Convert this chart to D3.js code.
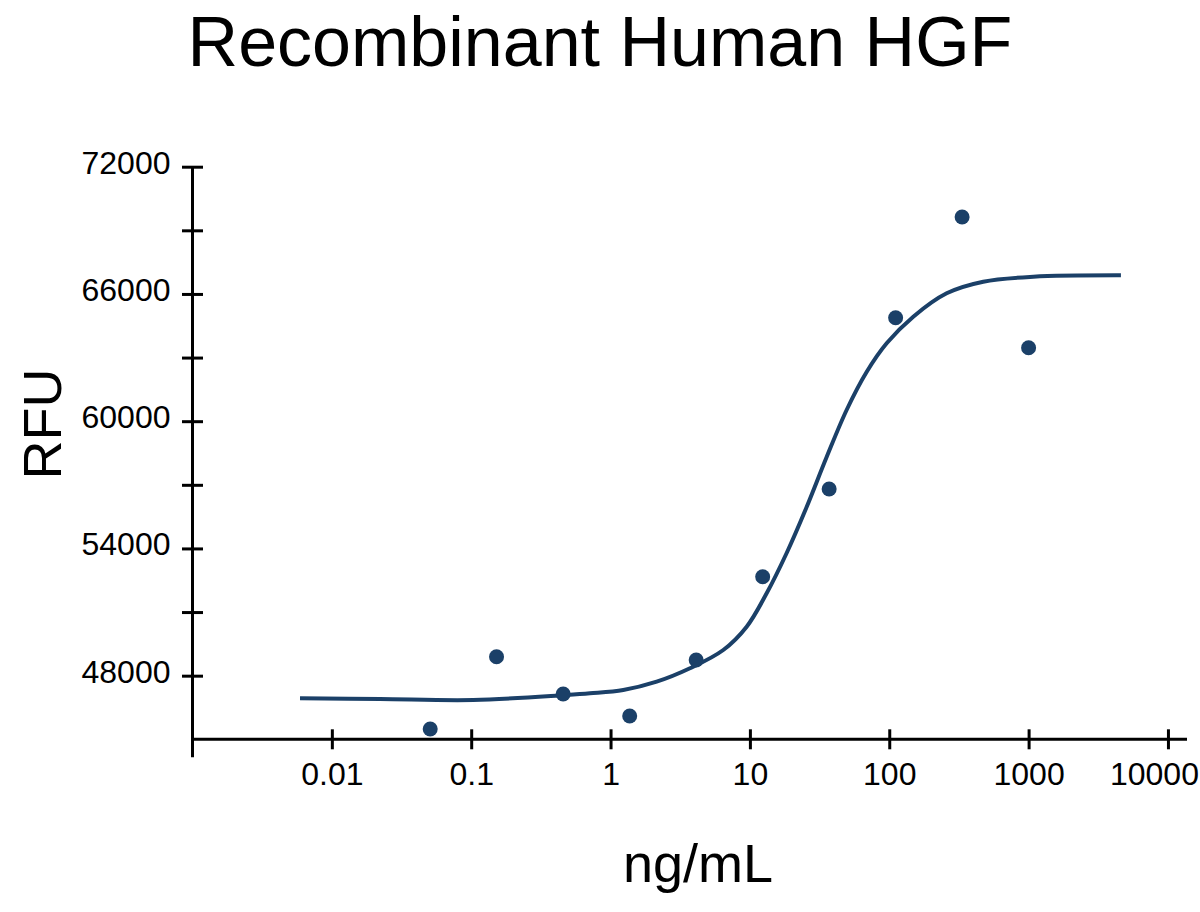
<!DOCTYPE html>
<html>
<head>
<meta charset="utf-8">
<script src="https://cdn.jsdelivr.net/npm/d3@7"></script>
<style>
  body { margin: 0; background: #fff; }
  text { font-family: "Liberation Sans", Arial, sans-serif; fill: #000; }
</style>
</head>
<body>
<div class="container"></div>
<script>
// measured points (ng/mL, RFU)
var conc = [0.0508, 0.152, 0.457, 1.372, 4.115, 12.35, 37.04, 111.1, 333.3, 1000];
var rfu = [45486, 48895, 47136, 46099, 48739, 52667, 56802, 64878, 69627, 63464];

// fitted curve
var curveConc = [0.00591, 0.02216, 0.1035, 0.4764, 0.7114, 1.234, 2.143, 3.714, 6.44, 9.48,
    13.19, 18.36, 25.54, 35.55, 49.45, 68.8, 95.8, 148.7, 258.2, 472.6, 1080, 4598];
var curveRfu = [46933, 46900, 46853, 47089, 47169, 47324, 47716, 48348, 49210, 50309,
    51884, 53784, 55953, 58310, 60527, 62318, 63671, 64926, 66029, 66576, 66812, 66878];

var xTicks = [0.01, 0.1, 1, 10, 100, 1000, 10000];
var xTickLabels = ["0.01", "0.1", "1", "10", "100", "1000", "10000"];
var yTicks = [48000, 51000, 54000, 57000, 60000, 63000, 66000, 69000, 72000];
var yLabelTicks = [48000, 54000, 60000, 66000, 72000];

var color = "#1b4068";

var svg = d3.select(".container")
    .append("svg")
    .attr("width", 1200)
    .attr("height", 912);

svg.append("rect").attr("width", 1200).attr("height", 912).attr("fill", "#fff");

var x = d3.scaleLog()
    .domain([0.001, 13700])
    .range([192.5, 1187]);

var y = d3.scaleLinear()
    .domain([45000, 72000])
    .range([739.3, 166.7]);

// title
svg.append("text")
    .attr("x", 600)
    .attr("y", 66)
    .attr("text-anchor", "middle")
    .style("font-size", "70px")
    .text("Recombinant Human HGF");

// x axis
var xAxis = svg.append("g")
    .attr("transform", "translate(0," + y(45000) + ")")
    .call(d3.axisBottom(x)
        .tickValues(xTicks)
        .tickFormat(function (d, i) { return xTickLabels[i]; }));
xAxis.select(".domain").remove();
xAxis.selectAll(".tick line")
    .attr("y1", -10).attr("y2", 10)
    .attr("stroke", "#000").attr("stroke-width", 3);
xAxis.selectAll(".tick text")
    .attr("y", 46).attr("dy", 0)
    .style("font-size", "32px");
// last label pulled in so it stays inside the frame
xAxis.selectAll(".tick text")
    .filter(function (d) { return d === 10000; })
    .attr("x", -14);
xAxis.append("line")
    .attr("x1", x.range()[0]).attr("x2", x.range()[1])
    .attr("stroke", "#000").attr("stroke-width", 3);

// y axis
var yAxis = svg.append("g")
    .attr("transform", "translate(" + x(0.001) + ",0)")
    .call(d3.axisLeft(y)
        .tickValues(yTicks)
        .tickFormat(function (d) { return yLabelTicks.indexOf(d) >= 0 ? d : ""; }));
yAxis.select(".domain").remove();
yAxis.selectAll(".tick line")
    .attr("x1", -10.5).attr("x2", 10.5)
    .attr("stroke", "#000").attr("stroke-width", 3);
yAxis.selectAll(".tick text")
    .attr("x", -22).attr("dy", "0.2em")
    .style("font-size", "32px");
yAxis.append("line")
    .attr("y1", y(72000)).attr("y2", y(45000) + 18)
    .attr("stroke", "#000").attr("stroke-width", 3);

// axis titles
svg.append("text")
    .attr("x", 698)
    .attr("y", 882)
    .attr("text-anchor", "middle")
    .style("font-size", "54px")
    .text("ng/mL");

svg.append("text")
    .attr("transform", "translate(61,424) rotate(-90)")
    .attr("text-anchor", "middle")
    .style("font-size", "54px")
    .text("RFU");

// fitted curve
var line = d3.line()
    .x(function (d) { return x(d[0]); })
    .y(function (d) { return y(d[1]); })
    .curve(d3.curveCatmullRom.alpha(0.5));

svg.append("path")
    .datum(d3.zip(curveConc, curveRfu))
    .attr("d", line)
    .attr("fill", "none")
    .attr("stroke", color)
    .attr("stroke-width", 4);

// points
svg.append("g")
    .selectAll("circle")
    .data(d3.zip(conc, rfu))
    .enter()
    .append("circle")
    .attr("cx", function (d) { return x(d[0]); })
    .attr("cy", function (d) { return y(d[1]); })
    .attr("r", 7.5)
    .attr("fill", color);
</script>
</body>
</html>
